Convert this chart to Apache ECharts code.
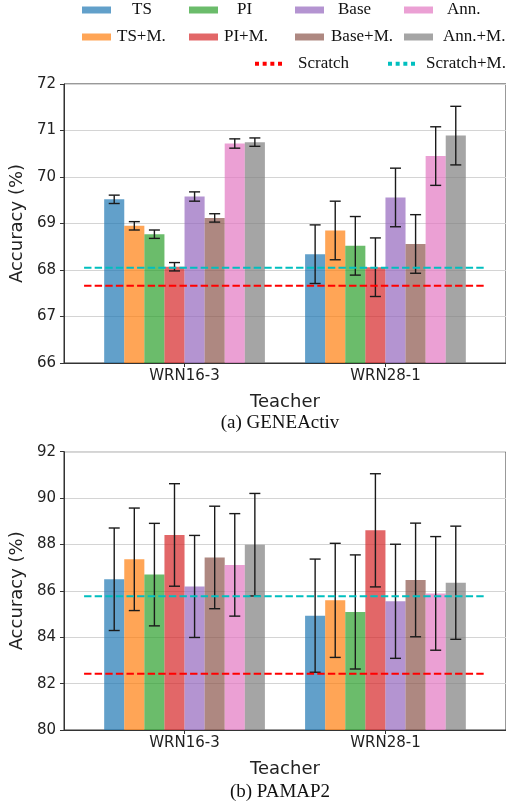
<!DOCTYPE html>
<html>
<head>
<meta charset="utf-8">
<script src="https://cdn.jsdelivr.net/npm/echarts@6/dist/echarts.min.js"></script>
<style>
  html, body { margin: 0; padding: 0; background: #fff; }
  #chart { width: 506px; height: 808px; }
</style>
</head>
<body>
<div id="chart"></div>
<script>
// Teachers on the x axis and the distillation methods drawn as grouped bars
const teachers = ['WRN16-3', 'WRN28-1'];
const methods = ['TS', 'TS+M.', 'PI', 'PI+M.', 'Base', 'Base+M.', 'Ann.', 'Ann.+M.'];

// (a) GENEActiv: mean accuracy and std per method, one array per teacher
const geneMeanWRN163 = [69.52, 68.95, 68.77, 68.07, 69.58, 69.12, 70.72, 70.75];
const geneErrWRN163  = [0.09, 0.09, 0.09, 0.09, 0.10, 0.09, 0.10, 0.09];
const geneMeanWRN281 = [68.34, 68.85, 68.52, 68.06, 69.56, 68.56, 70.45, 70.89];
const geneErrWRN281  = [0.63, 0.63, 0.63, 0.63, 0.63, 0.63, 0.63, 0.63];
const geneScratch  = 67.66;
const geneScratchM = 68.05;

// (b) PAMAP2
const pamapMeanWRN163 = [86.50, 87.36, 86.70, 88.41, 86.19, 87.44, 87.12, 87.99];
const pamapErrWRN163  = [2.21, 2.21, 2.21, 2.21, 2.20, 2.21, 2.21, 2.21];
const pamapMeanWRN281 = [84.93, 85.59, 85.09, 88.61, 85.55, 86.47, 85.89, 86.35];
const pamapErrWRN281  = [2.44, 2.46, 2.46, 2.44, 2.46, 2.45, 2.45, 2.44];
const pamapScratch  = 82.43;
const pamapScratchM = 85.77;

// y axis ticks
const geneTicks  = [66, 67, 68, 69, 70, 71, 72];
const pamapTicks = [80, 82, 84, 86, 88, 90, 92];

// styling
const palette = [
  'rgba(31,119,180,0.7)', 'rgba(255,127,14,0.7)', 'rgba(44,160,44,0.7)', 'rgba(214,39,40,0.7)',
  'rgba(148,103,189,0.7)', 'rgba(140,86,75,0.7)', 'rgba(227,119,194,0.7)', 'rgba(127,127,127,0.7)'
];
const scratchColor = '#ff0000';
const scratchMColor = '#00bfbf';
const SANS = 'DejaVu Sans';
const SERIF = 'Liberation Serif';
const BAR_W = 0.1;

function barRenderer(slot, base) {
  return function (params, api) {
    const x = api.value(0), v = api.value(1), e = api.value(2);
    const cx = x + (slot - (methods.length - 1) / 2) * BAR_W;
    const tl = api.coord([cx - BAR_W / 2, v]);
    const br = api.coord([cx + BAR_W / 2, base]);
    const hi = api.coord([cx, v + e]);
    const lo = api.coord([cx, v - e]);
    const cap = 5.5;
    const ink = { stroke: '#1a1a1a', lineWidth: 1.4 };
    return {
      type: 'group',
      children: [
        { type: 'rect', shape: { x: tl[0], y: tl[1], width: br[0] - tl[0], height: br[1] - tl[1] },
          style: { fill: api.visual('color') } },
        { type: 'line', shape: { x1: hi[0], y1: hi[1], x2: lo[0], y2: lo[1] }, style: ink, z2: 5 },
        { type: 'line', shape: { x1: hi[0] - cap, y1: hi[1], x2: hi[0] + cap, y2: hi[1] }, style: ink, z2: 5 },
        { type: 'line', shape: { x1: lo[0] - cap, y1: lo[1], x2: lo[0] + cap, y2: lo[1] }, style: ink, z2: 5 }
      ]
    };
  };
}

function panelSeries(gridIdx, base, meansByTeacher, errsByTeacher, scratch, scratchM) {
  const out = methods.map((m, i) => ({
    name: m,
    type: 'custom',
    xAxisIndex: gridIdx,
    yAxisIndex: gridIdx,
    color: palette[i],
    itemStyle: { color: palette[i] },
    renderItem: barRenderer(i, base),
    data: teachers.map((t, k) => [k, meansByTeacher[k][i], errsByTeacher[k][i]]),
    z: 2
  }));
  const dashed = (name, val, color) => ({
    name: name,
    type: 'line',
    xAxisIndex: gridIdx,
    yAxisIndex: gridIdx,
    color: color,
    symbol: 'none',
    silent: true,
    lineStyle: { color: color, width: 2, type: [7.4, 3.2] },
    data: [[-0.5, val], [1.5, val]],
    z: 3
  });
  out.push(dashed('Scratch', scratch, scratchColor));
  out.push(dashed('Scratch+M.', scratchM, scratchMColor));
  return out;
}

function xAxisFor(gridIdx) {
  return {
    type: 'value', gridIndex: gridIdx, min: -0.6, max: 1.6,
    name: 'Teacher', nameLocation: 'middle', nameGap: 30,
    nameTextStyle: { fontFamily: SANS, fontSize: 18, color: '#222' },
    axisLine: { show: true, onZero: false, lineStyle: { color: '#333', width: 1 } },
    axisTick: { show: true, length: 4, customValues: [0, 1], lineStyle: { color: '#333' } },
    axisLabel: { customValues: [0, 1], margin: 6, fontFamily: SANS, fontSize: 15, color: '#222',
                 formatter: v => teachers[Math.round(v)] },
    splitLine: { show: false }
  };
}

function yAxisFor(gridIdx, ticks) {
  return {
    type: 'value', gridIndex: gridIdx,
    min: ticks[0], max: ticks[ticks.length - 1], interval: ticks[1] - ticks[0],
    name: 'Accuracy (%)', nameLocation: 'middle', nameGap: 26, nameRotate: 90,
    nameTextStyle: { fontFamily: SANS, fontSize: 18, color: '#222' },
    axisLine: { show: true, onZero: false, lineStyle: { color: '#333', width: 1 } },
    axisTick: { show: true, length: 4, lineStyle: { color: '#333' } },
    axisLabel: { margin: 8, fontFamily: SANS, fontSize: 15, color: '#222' },
    splitLine: { show: true, lineStyle: { color: '#d4d4d4', width: 1 } }
  };
}

// legend layout: one block per entry
const dotsIcon = 'path://M0,0h4v4h-4zM7.7,0h4v4h-4zM15.4,0h4v4h-4zM23.1,0h4v4h-4z';
const legendSpots = [
  { name: 'TS',         left: 82,  top: 0,  pad: 16 },
  { name: 'PI',         left: 189, top: 0,  pad: 14 },
  { name: 'Base',       left: 295, top: 0,  pad: 9 },
  { name: 'Ann.',       left: 404, top: 0,  pad: 9 },
  { name: 'TS+M.',      left: 82,  top: 27, pad: 1 },
  { name: 'PI+M.',      left: 189, top: 27, pad: 1 },
  { name: 'Base+M.',    left: 295, top: 27, pad: 2 },
  { name: 'Ann.+M.',    left: 404, top: 27, pad: 5 },
  { name: 'Scratch',    left: 255, top: 53.7, pad: 11, dots: true },
  { name: 'Scratch+M.', left: 388, top: 53.7, pad: 6, dots: true }
];
const legends = legendSpots.map(s => ({
  data: [{ name: s.name, icon: s.dots ? dotsIcon : 'rect' }],
  left: s.left, top: s.top, padding: 0,
  itemWidth: s.dots ? 27 : 29, itemHeight: s.dots ? 4 : 7,
  selectedMode: false,
  textStyle: { fontFamily: SERIF, fontSize: 17, color: '#111', lineHeight: 20, padding: [0, 0, 0, s.pad] }
}));

const chart = echarts.init(document.getElementById('chart'), null, { renderer: 'canvas' });
chart.setOption({
  animation: false,
  backgroundColor: '#fff',
  legend: legends,
  grid: [
    { left: 62, top: 84, width: 445.5, height: 279, show: true, borderColor: '#333', borderWidth: 1, backgroundColor: 'transparent' },
    { left: 62, top: 451.7, width: 445.5, height: 278.3, show: true, borderColor: '#333', borderWidth: 1, backgroundColor: 'transparent' }
  ],
  xAxis: [xAxisFor(0), xAxisFor(1)],
  yAxis: [yAxisFor(0, geneTicks), yAxisFor(1, pamapTicks)],
  series: [].concat(
    panelSeries(0, geneTicks[0], [geneMeanWRN163, geneMeanWRN281], [geneErrWRN163, geneErrWRN281], geneScratch, geneScratchM),
    panelSeries(1, pamapTicks[0], [pamapMeanWRN163, pamapMeanWRN281], [pamapErrWRN163, pamapErrWRN281], pamapScratch, pamapScratchM)
  ),
  graphic: [
    { type: 'text', x: 280, y: 423, style: { text: '(a) GENEActiv', fontFamily: SERIF, fontSize: 19, fill: '#111', align: 'center', verticalAlign: 'middle' } },
    { type: 'text', x: 280, y: 792, style: { text: '(b) PAMAP2', fontFamily: SERIF, fontSize: 19, fill: '#111', align: 'center', verticalAlign: 'middle' } }
  ]
});
</script>
</body>
</html>
